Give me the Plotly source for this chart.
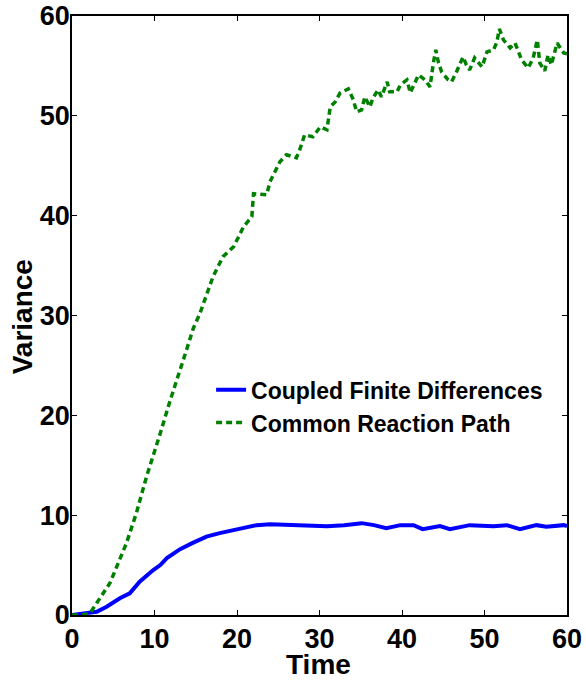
import plotly.graph_objects as go

# Data
cfd_time = [0, 1.8, 3.0, 4.2, 5.8, 7.0, 8.2, 9.85, 10.7, 11.5, 13.1, 14.7, 16.3, 17.9,
            20.0, 22.4, 24.0, 26.8, 30.9, 33.0, 35.1, 36.6, 38.1, 39.8, 41.4, 42.5,
            44.6, 45.8, 48.2, 51.1, 52.7, 54.3, 56.3, 57.5, 59.6, 60.0]
cfd_var = [0, 0.17, 0.33, 0.83, 1.67, 2.17, 3.34, 4.5, 5.0, 5.7, 6.6, 7.25, 7.85, 8.2,
           8.6, 9.0, 9.1, 9.0, 8.9, 9.0, 9.2, 9.0, 8.7, 9.0, 9.0, 8.6,
           8.9, 8.6, 9.0, 8.9, 9.0, 8.6, 9.0, 8.85, 9.0, 8.9]

crp_time = [0, 1.0, 2.0, 2.2, 3.0, 4.6, 5.5, 6.6, 7.8, 9.05, 10.7, 11.9, 13.9, 14.7,
            15.5, 16.3, 17.1, 18.3, 19.6, 20.8, 21.8, 22.0, 23.6, 24.0, 25.2, 26.0,
            27.2, 27.6, 28.2, 29.2, 30.1, 30.9, 31.3, 31.9, 32.5, 33.5, 34.1, 34.5,
            35.1, 35.5, 36.1, 36.5, 37.1, 37.5, 38.2, 38.5, 39.4, 39.8, 40.6, 41.0,
            41.4, 42.0, 42.8, 43.4, 43.8, 44.1, 44.4, 44.8, 45.6, 46.0, 46.6, 47.4,
            47.8, 48.2, 48.8, 49.7, 50.3, 51.1, 51.5, 51.8, 52.3, 53.1, 53.7, 54.5,
            55.3, 55.9, 56.4, 56.7, 57.3, 57.7, 58.1, 58.8, 59.6, 60.0]
crp_var = [0, 0, 0.1, 0.2, 1.2, 3.2, 5.0, 7.2, 10.2, 13.9, 18.2, 21.5, 26.6, 28.7,
           30.2, 32.0, 33.9, 35.9, 36.9, 38.9, 39.9, 42.2, 42.1, 43.4, 45.4, 46.1,
           45.8, 46.6, 48.1, 47.9, 48.9, 48.6, 50.9, 51.4, 52.3, 52.7, 51.6, 50.4,
           50.6, 51.9, 50.9, 51.8, 52.6, 51.9, 53.4, 52.4, 52.4, 53.1, 53.6, 52.3,
           53.1, 54.1, 53.6, 52.9, 55.3, 56.6, 55.4, 54.4, 53.6, 53.4, 54.4, 55.9,
           55.1, 54.6, 55.8, 54.9, 56.4, 56.6, 57.4, 58.7, 57.6, 56.8, 57.3, 55.6,
           54.8, 55.8, 57.6, 55.3, 54.5, 56.1, 55.1, 57.3, 56.3, 56.2]

x_ticks = [0, 10, 20, 30, 40, 50, 60]
y_ticks = [0, 10, 20, 30, 40, 50, 60]

FONT = "Liberation Sans, Arial, sans-serif"

fig = go.Figure()
fig.add_trace(go.Scatter(x=cfd_time, y=cfd_var, mode="lines",
                         name="<b>Coupled Finite Differences</b>",
                         line=dict(color="rgb(0,0,255)", width=4)))
fig.add_trace(go.Scatter(x=crp_time, y=crp_var, mode="lines",
                         name="<b>Common Reaction Path</b>",
                         line=dict(color="rgb(0,128,0)", width=3.5, dash="6px,4px")))

axis_common = dict(
    showline=True, linecolor="black", linewidth=1.5, mirror="ticks",
    ticks="inside", ticklen=5, tickcolor="black", tickwidth=1,
    showgrid=False, zeroline=False, automargin=False,
    tickfont=dict(family=FONT, size=27, color="black", weight="bold"),
)

fig.update_layout(
    width=586, height=682,
    margin=dict(l=72, r=19, t=16, b=67),
    paper_bgcolor="white", plot_bgcolor="white",
    font=dict(family=FONT, color="black"),
    xaxis=dict(range=[0, 60], tickvals=x_ticks, ticklabelstandoff=-1, **axis_common),
    yaxis=dict(range=[0, 60], tickvals=y_ticks, ticklabelstandoff=-5, **axis_common),
    legend=dict(x=0.281, y=0.412, xanchor="left", yanchor="top",
                bgcolor="rgba(0,0,0,0)", borderwidth=0,
                font=dict(family=FONT, size=23, color="black"),
                itemwidth=30),
    showlegend=True,
    annotations=[
        dict(text="<b>Time</b>", x=0.497, y=-0.083, xref="paper", yref="paper",
             xanchor="center", yanchor="middle", showarrow=False,
             font=dict(family=FONT, size=28, color="black")),
        dict(text="<b>Variance</b>", x=-0.101, y=0.497, xref="paper", yref="paper",
             xanchor="center", yanchor="middle", showarrow=False, textangle=-90,
             font=dict(family=FONT, size=28, color="black")),
    ],
)

fig.write_html("out.html",
               config={"displayModeBar": False},
               post_script="document.body.style.margin='0px';document.body.style.overflow='hidden';")
